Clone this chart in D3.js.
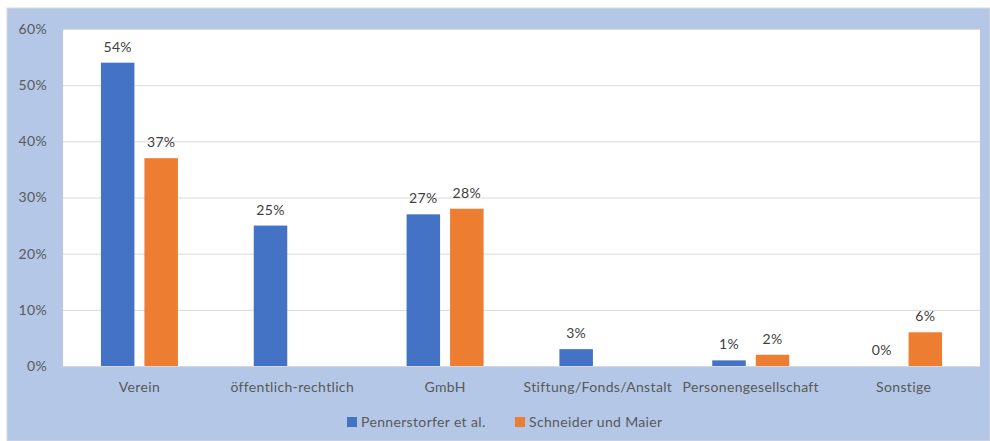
<!DOCTYPE html>
<html><head><meta charset="utf-8">
<script src="https://cdn.jsdelivr.net/npm/d3@7"></script>
<style>body{margin:0;background:#fff;} svg{display:block;} text{font-family:Lato,"Open Sans",sans-serif;letter-spacing:0.35px;}</style>
</head><body>
<svg id="c" width="990" height="441"></svg>
<script>
const categories = ["Verein","öffentlich-rechtlich","GmbH","Stiftung/Fonds/Anstalt","Personengesellschaft","Sonstige"];
const seriesNames = ["Pennerstorfer et al.","Schneider und Maier"];
const pennerstorfer = [54,25,27,3,1,0];
const schneider = [37,null,28,null,2,6];
const yTicks = [0,10,20,30,40,50,60];
const colors = ["#4472c4","#ed7d31"];

const svg = d3.select("#c");
svg.append("rect").attr("x",7).attr("y",8).attr("width",983).attr("height",433).attr("fill","#b4c7e7").attr("stroke","#d9d9d9").attr("stroke-width",1);
const m = {l:63,r:980,t:29,b:366};
svg.append("rect").attr("x",m.l).attr("y",m.t).attr("width",m.r-m.l).attr("height",m.b-m.t).attr("fill","#fff");

const x = d3.scaleBand().domain(categories).range([m.l,m.r]);
const y = d3.scaleLinear().domain([0,60]).range([m.b,m.t]);
const bw = 33.5, gap = 10;
const xs = d3.scaleOrdinal().domain(seriesNames).range([-(bw+gap)/2 - bw/2, (bw+gap)/2 - bw/2]);

const yAxis = d3.axisLeft(y).tickValues(yTicks).tickFormat(d=>d+"%").tickSize(-(m.r-m.l));
const ga = svg.append("g").attr("transform",`translate(${m.l},0)`).call(yAxis);
ga.select(".domain").remove();
ga.selectAll("line").attr("stroke","#d9d9d9").attr("stroke-width",1);
ga.selectAll("text").attr("x",-16).attr("fill","#595959").style("font-size","14px");

const xAxis = d3.axisBottom(x).tickSize(0);
const gx = svg.append("g").attr("transform",`translate(0,${m.b})`).call(xAxis);
gx.select(".domain").attr("stroke","#d9d9d9");
gx.selectAll("text").attr("dy","0").attr("y",26).attr("fill","#595959").style("font-size","14px");

const data = [pennerstorfer, schneider];
data.forEach((vals,si)=>{
  const g = svg.append("g");
  const pts = categories.map((c,i)=>({c,v:vals[i]})).filter(d=>d.v!==null);
  g.selectAll("rect").data(pts).join("rect")
    .attr("x",d=>x(d.c)+x.bandwidth()/2+xs(seriesNames[si]))
    .attr("width",bw)
    .attr("y",d=>y(d.v)).attr("height",d=>y(0)-y(d.v))
    .attr("fill",colors[si]);
  g.selectAll("text").data(pts).join("text")
    .attr("x",d=>x(d.c)+x.bandwidth()/2+xs(seriesNames[si])+bw/2)
    .attr("y",d=>y(d.v)-11)
    .attr("text-anchor","middle").attr("fill","#404040").style("font-size","14px")
    .text(d=>d.v+"%");
});

const leg = svg.append("g");
const lx = [347,515];
seriesNames.forEach((n,i)=>{
  leg.append("rect").attr("x",lx[i]).attr("y",417).attr("width",10).attr("height",10).attr("fill",colors[i]);
  leg.append("text").attr("x",lx[i]+14).attr("y",426.5).attr("fill","#595959").style("font-size","14px").text(n);
});
</script>
</body></html>
